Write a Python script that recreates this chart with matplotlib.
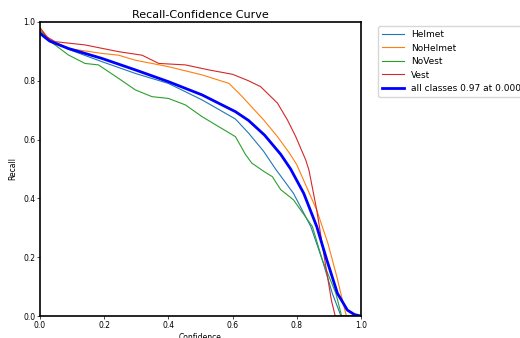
import matplotlib
matplotlib.use('Agg')
import matplotlib.pyplot as plt

# confidence / recall points
helmet_x = [0.0, 0.03, 0.088, 0.193, 0.297, 0.4, 0.505, 0.609, 0.65, 0.697, 0.734, 0.79, 0.844, 0.88, 0.911, 0.938, 1.0]
helmet_y = [0.97, 0.94, 0.907, 0.865, 0.825, 0.791, 0.735, 0.67, 0.622, 0.56, 0.5, 0.417, 0.304, 0.19, 0.077, 0.0, 0.0]

nohelmet_x = [0.0, 0.03, 0.088, 0.193, 0.245, 0.297, 0.4, 0.505, 0.589, 0.625, 0.697, 0.74, 0.778, 0.8, 0.8625, 0.897, 0.925, 0.95, 0.955, 1.0]
nohelmet_y = [0.98, 0.94, 0.91, 0.893, 0.887, 0.87, 0.848, 0.82, 0.791, 0.752, 0.667, 0.61, 0.553, 0.515, 0.36, 0.248, 0.134, 0.02, 0.0, 0.0]

novest_x = [0.0, 0.026, 0.088, 0.14, 0.182, 0.245, 0.297, 0.349, 0.4, 0.453, 0.505, 0.557, 0.609, 0.64, 0.66, 0.7, 0.724, 0.75, 0.79, 0.849, 0.88, 0.922, 0.94, 1.0]
novest_y = [0.97, 0.939, 0.888, 0.859, 0.854, 0.808, 0.769, 0.746, 0.74, 0.718, 0.678, 0.644, 0.61, 0.55, 0.52, 0.49, 0.474, 0.43, 0.395, 0.304, 0.19, 0.077, 0.0, 0.0]

vest_x = [0.0, 0.02, 0.047, 0.14, 0.245, 0.318, 0.37, 0.453, 0.526, 0.6, 0.65, 0.6875, 0.74, 0.771, 0.797, 0.828, 0.838, 0.8625, 0.8875, 0.908, 0.92, 1.0]
vest_y = [0.98, 0.95, 0.933, 0.922, 0.899, 0.887, 0.859, 0.854, 0.837, 0.822, 0.80, 0.78, 0.724, 0.667, 0.61, 0.531, 0.497, 0.36, 0.19, 0.054, 0.0, 0.0]

all_x = [0.0, 0.03, 0.088, 0.193, 0.297, 0.4, 0.505, 0.609, 0.65, 0.7, 0.75, 0.781, 0.822, 0.8625, 0.894, 0.927, 0.958, 0.98, 1.0]
all_y = [0.961, 0.935, 0.91, 0.876, 0.837, 0.797, 0.752, 0.695, 0.665, 0.615, 0.55, 0.5, 0.417, 0.304, 0.19, 0.077, 0.02, 0.005, 0.0]

names = ['Helmet', 'NoHelmet', 'NoVest', 'Vest']
all_label = 'all classes 0.97 at 0.000'

fig = plt.figure(figsize=(5.2, 3.38), dpi=100)
ax = fig.add_axes([0.077, 0.065, 0.617, 0.87])

curves = [(helmet_x, helmet_y), (nohelmet_x, nohelmet_y), (novest_x, novest_y), (vest_x, vest_y)]
for (x, y), n in zip(curves, names):
  ax.plot(x, y, linewidth=0.8, label=n)

ax.plot(all_x, all_y, linewidth=2, color='blue', label=all_label)

ax.set_xlim(0, 1)
ax.set_ylim(0, 1)
ax.set_xlabel('Confidence', fontsize=5.5, labelpad=2)
ax.set_ylabel('Recall', fontsize=5.5)
ax.set_title('Recall-Confidence Curve', fontsize=8, pad=3)
ax.tick_params(labelsize=5.5, length=2, width=0.5, pad=1.5)
for s in ax.spines.values():
  s.set_linewidth(1.2)
ax.legend(bbox_to_anchor=(1.04, 1), loc='upper left', fontsize=6.5, handlelength=2.4, frameon=True)

fig.savefig('out.png', dpi=100)
